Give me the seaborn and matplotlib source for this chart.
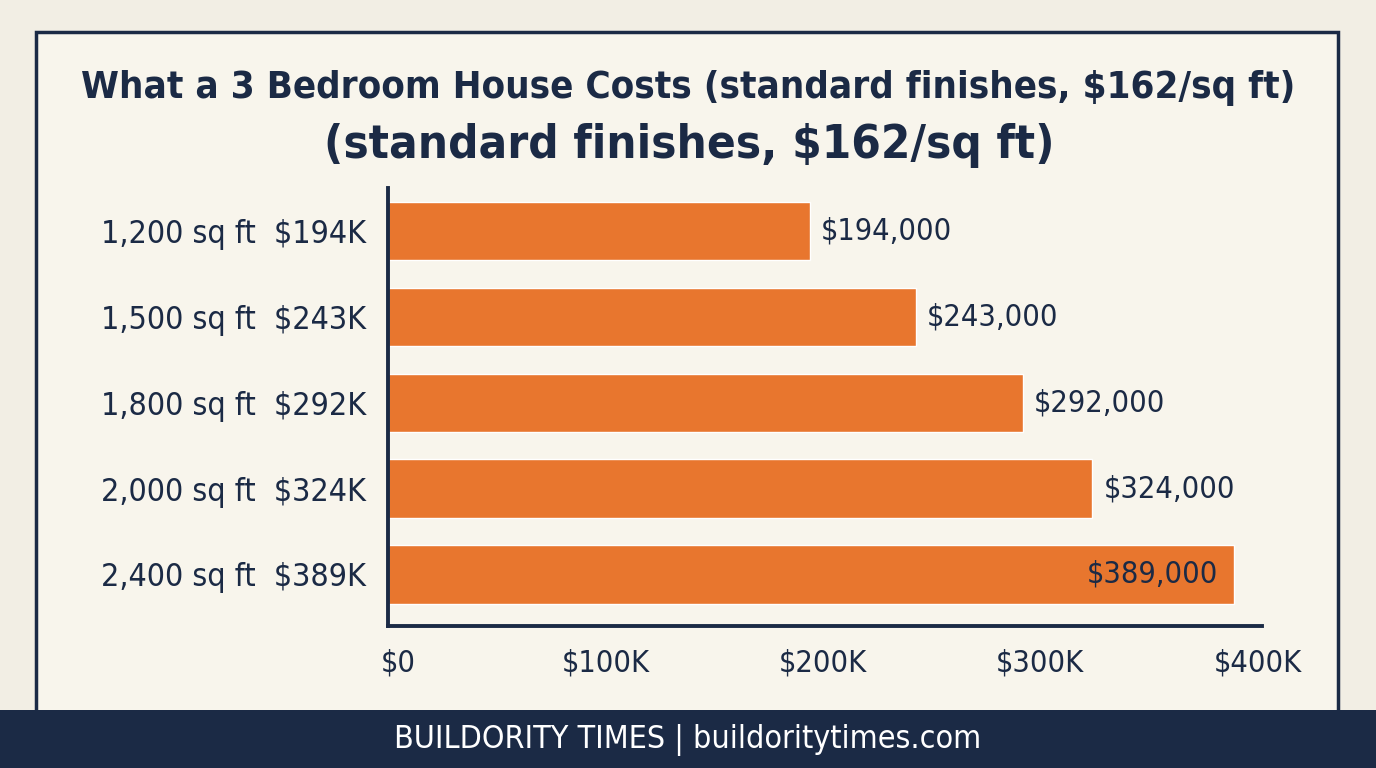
import matplotlib
matplotlib.use("Agg")
import matplotlib.pyplot as plt
from matplotlib.patches import Rectangle
from matplotlib.transforms import ScaledTranslation
import seaborn as sns
import pandas as pd

sizes = ["1,200 sq ft", "1,500 sq ft", "1,800 sq ft", "2,000 sq ft", "2,400 sq ft"]
short_costs = ["$194K", "$243K", "$292K", "$324K", "$389K"]
costs = [194000, 243000, 292000, 324000, 389000]
xticks = [0, 100000, 200000, 300000, 400000]
xtick_labels = ["$0", "$100K", "$200K", "$300K", "$400K"]

NAVY = "#1b2a45"
ORANGE = "#e8762e"
PAGE = "#f2eee4"
PANEL = "#f8f5ec"

sns.set_theme(style="white")
plt.rcParams["font.family"] = ["DejaVu Sans"]
plt.rcParams["font.stretch"] = "condensed"

W, H = 1376, 768
fig = plt.figure(figsize=(W / 100, H / 100), dpi=100, facecolor=PAGE)

# panel with border and footer band
fig.patches.append(Rectangle((36 / W, 1 - 712 / H), (1338 - 36) / W, (712 - 32) / H,
                             transform=fig.transFigure, facecolor=PANEL,
                             edgecolor=NAVY, linewidth=2.5, zorder=-10))
fig.patches.append(Rectangle((0, 0), 1, (768 - 710) / H, transform=fig.transFigure,
                             facecolor=NAVY, edgecolor="none", zorder=5))

fig.text(688 / W, 1 - 88 / H, "What a 3 Bedroom House Costs (standard finishes, $162/sq ft)",
         ha="center", va="center", fontsize=27.5, fontweight="bold", color=NAVY)
fig.text(689 / W, 1 - 146 / H, "(standard finishes, $162/sq ft)",
         ha="center", va="center", fontsize=34, fontweight="bold", color=NAVY)
fig.text(688 / W, 1 - 740 / H, "BUILDORITY TIMES | buildoritytimes.com",
         ha="center", va="center", fontsize=23, color="white", zorder=6)

ax = fig.add_axes([388 / W, 1 - 626 / H, (1262 - 388) / W, (626 - 188) / H])
ax.set_facecolor("none")

df = pd.DataFrame({"label": [f"{s}  {c}" for s, c in zip(sizes, short_costs)],
                   "cost": costs})
sns.barplot(data=df, x="cost", y="label", orient="h", color=ORANGE,
            saturation=1, width=0.68, ax=ax)

ax.set_xlim(0, 402000)
ax.set_ylim(4.6, -0.5)
ax.set_xlabel("")
ax.set_ylabel("")
ax.set_xticks(xticks)
ax.set_xticklabels(xtick_labels)
ax.tick_params(axis="x", length=0, labelsize=22, colors=NAVY, pad=16)
ax.tick_params(axis="y", length=0, labelsize=23, colors=NAVY, pad=16)

# the $0 label sits a little right of the spine
lbl0 = ax.get_xticklabels()[0]
lbl0.set_transform(lbl0.get_transform() + ScaledTranslation(10 / 100, 0, fig.dpi_scale_trans))

for side in ["top", "right"]:
    ax.spines[side].set_visible(False)
for side in ["left", "bottom"]:
    ax.spines[side].set_color(NAVY)
    ax.spines[side].set_linewidth(2.8)

for i, v in enumerate(costs):
    if i == len(costs) - 1:
        ax.text(v - 7000, i, f"${v:,}", ha="right", va="center", fontsize=22, color=NAVY)
    else:
        ax.text(v + 5000, i, f"${v:,}", ha="left", va="center", fontsize=22, color=NAVY)

fig.savefig("out.png", dpi=100, facecolor=PAGE)
